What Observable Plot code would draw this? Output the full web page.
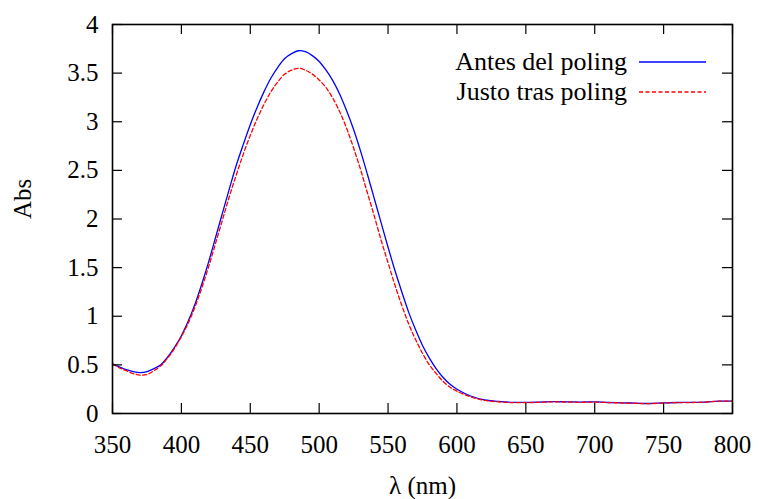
<!DOCTYPE html>
<html>
<head>
<meta charset="utf-8">
<script src="https://cdn.jsdelivr.net/npm/d3@7"></script>
<script src="https://cdn.jsdelivr.net/npm/@observablehq/plot@0.6"></script>
<style>
  html, body { margin: 0; padding: 0; background: white; }
  #chart { width: 759px; height: 499px; }
  svg, svg text, svg tspan, svg g { font-family: "Liberation Serif", serif !important; font-variant: normal !important; }
</style>
</head>
<body>
<div id="chart"></div>
<script>
const wavelengths = [350,355,360,365,370,375,380,385,390,395,400,405,410,415,420,425,430,435,440,445,450,455,460,465,470,475,480,485,490,495,500,505,510,515,520,525,530,535,540,545,550,555,560,565,570,575,580,585,590,595,600,610,620,630,640,650,660,670,680,690,700,710,720,730,740,750,760,770,780,790,800];

const antesValues = [0.51,0.48,0.45,0.43,0.42,0.43,0.46,0.50,0.58,0.68,0.80,0.95,1.13,1.34,1.57,1.82,2.07,2.32,2.56,2.77,2.97,3.15,3.31,3.45,3.56,3.65,3.70,3.73,3.72,3.68,3.62,3.53,3.42,3.28,3.11,2.92,2.70,2.46,2.21,1.96,1.71,1.47,1.25,1.04,0.86,0.70,0.57,0.46,0.37,0.30,0.25,0.18,0.14,0.125,0.115,0.115,0.118,0.122,0.12,0.118,0.12,0.113,0.11,0.106,0.103,0.11,0.113,0.114,0.118,0.127,0.128];

const justoValues = [0.51,0.47,0.44,0.41,0.395,0.40,0.44,0.49,0.57,0.67,0.79,0.93,1.10,1.30,1.52,1.76,2.00,2.24,2.46,2.67,2.86,3.03,3.18,3.31,3.41,3.49,3.53,3.55,3.53,3.49,3.43,3.35,3.24,3.10,2.93,2.73,2.51,2.27,2.03,1.78,1.55,1.32,1.11,0.92,0.76,0.62,0.50,0.41,0.33,0.27,0.23,0.17,0.135,0.12,0.112,0.112,0.115,0.12,0.118,0.115,0.117,0.112,0.108,0.104,0.102,0.108,0.112,0.113,0.118,0.127,0.128];

const seriesNames = ["Antes del poling", "Justo tras poling"];
const xTicks = [350,400,450,500,550,600,650,700,750,800];
const yTicks = [0,0.5,1,1.5,2,2.5,3,3.5,4];
const xLabel = "λ (nm)";
const yLabel = "Abs";

const W = 759, H = 499;
const mL = 112, mR = 27, mT = 24, mB = 86;
const innerW = W - mL - mR, innerH = H - mT - mB;
const tickLen = 10;
const font = "Liberation Serif";

const antes = wavelengths.map((w, i) => ({w, a: antesValues[i]}));
const justo = wavelengths.map((w, i) => ({w, a: justoValues[i]}));

const colors = ["#0000ff", "#ff0000"];
const dashes = [null, "4,2.5"];

const plot = Plot.plot({
  width: W, height: H,
  marginLeft: mL, marginRight: mR, marginTop: mT, marginBottom: mB,
  style: "background: white; color: black; font-family: 'Liberation Serif', serif; font-size: 25px;",
  x: {domain: [350, 800]},
  y: {domain: [0, 4]},
  marks: [
    Plot.line(antes, {x: "w", y: "a", stroke: colors[0], strokeWidth: 1.3, curve: "catmull-rom"}),
    Plot.line(justo, {x: "w", y: "a", stroke: colors[1], strokeWidth: 1.3, strokeDasharray: dashes[1], curve: "catmull-rom"}),
    // inward ticks (bottom, top, left, right)
    Plot.ruleX(xTicks, {x: d => d, insetTop: innerH - tickLen, stroke: "black", strokeWidth: 1.2}),
    Plot.ruleX(xTicks, {x: d => d, insetBottom: innerH - tickLen, stroke: "black", strokeWidth: 1.2}),
    Plot.ruleY(yTicks, {y: d => d, insetRight: innerW - tickLen, stroke: "black", strokeWidth: 1.2}),
    Plot.ruleY(yTicks, {y: d => d, insetLeft: innerW - tickLen, stroke: "black", strokeWidth: 1.2}),
    Plot.frame({stroke: "black", strokeWidth: 1.6}),
    Plot.axisX(xTicks, {anchor: "bottom", tickSize: 0, tickPadding: 22, fontSize: 25, fontFamily: font, fontVariant: "normal", tickFormat: d => String(d), label: null}),
    Plot.axisY(yTicks, {anchor: "left", tickSize: 0, tickPadding: 14, fontSize: 25, fontFamily: font, fontVariant: "normal", tickFormat: d => String(d), label: null}),
    Plot.text([yLabel], {text: d => d, frameAnchor: "left", dx: -90, rotate: -90, fontSize: 25, fontFamily: font, fill: "black"}),
    Plot.text([xLabel], {text: d => d, frameAnchor: "bottom", dy: 80, fontSize: 25, fontFamily: font, fill: "black"})
  ]
});

// Legend (gnuplot-style key inside the top-right of the frame)
const svg = d3.select(plot);
const key = svg.append("g").attr("font-size", 26).attr("font-family", font);
seriesNames.forEach((name, i) => {
  const yy = mT + 38 + i * 30;
  key.append("text")
    .attr("x", W - mR - 105).attr("y", yy).attr("dy", "0.32em")
    .attr("text-anchor", "end").attr("fill", "black").text(name);
  key.append("line")
    .attr("x1", W - mR - 93).attr("x2", W - mR - 26)
    .attr("y1", yy).attr("y2", yy)
    .attr("stroke", colors[i]).attr("stroke-width", 1.3)
    .attr("stroke-dasharray", dashes[i]);
});

svg.attr("font-family", font);
svg.selectAll("text").attr("font-family", font).attr("font-variant", null);

document.getElementById("chart").appendChild(plot);
</script>
</body>
</html>
